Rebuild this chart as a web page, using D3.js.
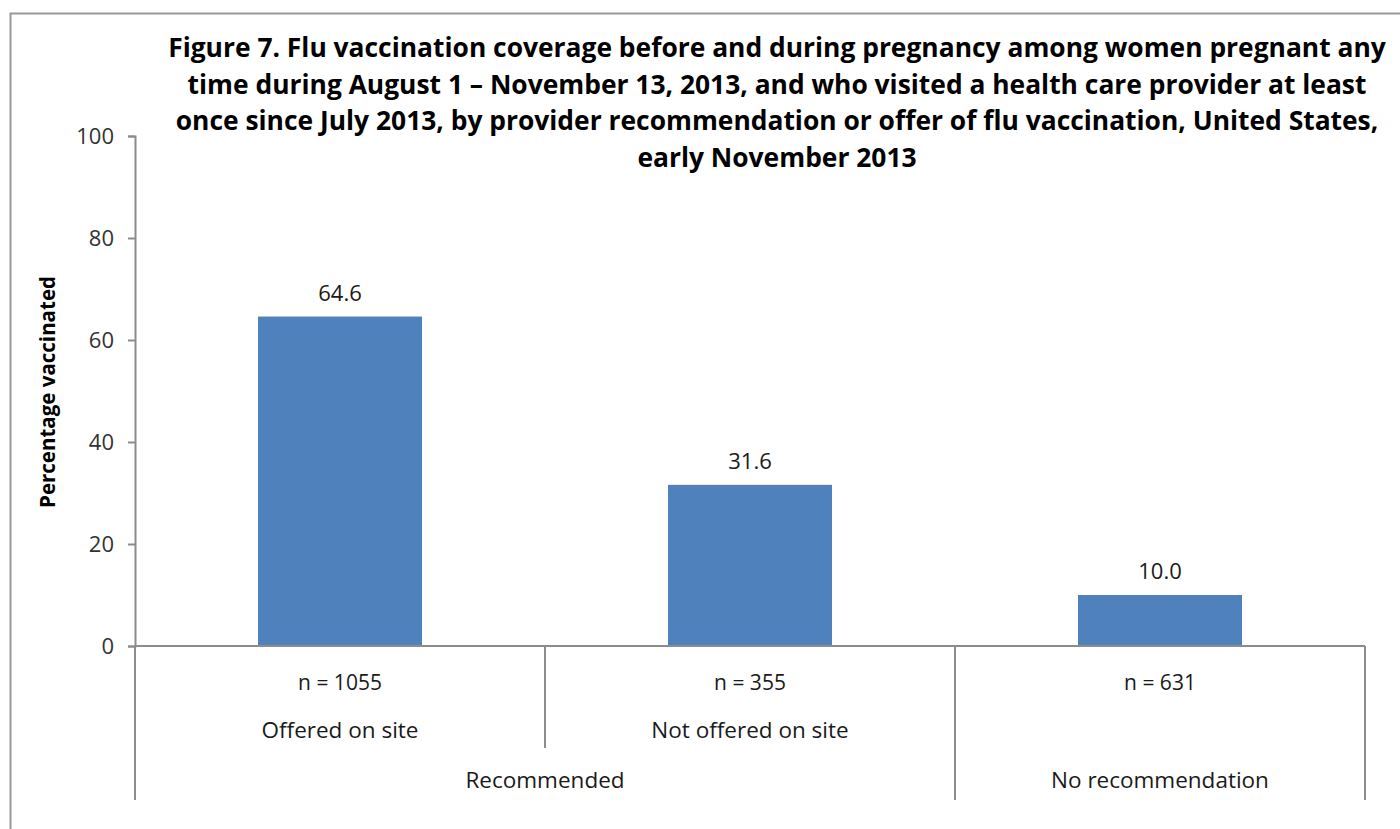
<!DOCTYPE html>
<html>
<head>
<meta charset="utf-8">
<script src="https://cdn.jsdelivr.net/npm/d3@7"></script>
<style>
  html, body { margin: 0; padding: 0; background: #fff; }
  svg { display: block; }
  text { font-family: "Open Sans", Lato, sans-serif; }
</style>
</head>
<body>
<svg id="chart" width="1400" height="829"></svg>
<script>
// Flu vaccination coverage by provider recommendation / offer
const categories = ["Offered on site", "Not offered on site", "No recommendation"];
const sampleSizes = ["n = 1055", "n = 355", "n = 631"];
const groups = [
  { label: "Recommended", span: [0, 1] },
  { label: "No recommendation", span: [2, 2] }
];
const values = [64.6, 31.6, 10.0];
const yTicks = [0, 20, 40, 60, 80, 100];
const titleLines = [
  "Figure 7. Flu vaccination coverage before and during pregnancy among women pregnant any",
  "time during August 1 \u2013 November 13, 2013, and who visited a health care provider at least",
  "once since July 2013, by provider recommendation or offer of flu vaccination, United States,",
  "early November 2013"
];
const yLabel = "Percentage vaccinated";

const svg = d3.select("#chart");
const axisColor = "#8c8c8c";
const textColor = "#1a1a1a";

// outer frame
svg.append("rect")
  .attr("x", 10.5).attr("y", 13.5)
  .attr("width", 1420).attr("height", 900)
  .attr("fill", "none").attr("stroke", "#999").attr("stroke-width", 2);

const plot = { left: 135, right: 1365, top: 136, bottom: 646 };

const x = d3.scaleBand()
  .domain(categories)
  .range([plot.left, plot.right])
  .paddingInner(0.6).paddingOuter(0.3);
const bandStep = x.step();

const y = d3.scaleLinear().domain([0, 100]).range([plot.bottom, plot.top]);

// y axis
const yAxis = d3.axisLeft(y).tickValues(yTicks).tickSize(7).tickPadding(14);
const gy = svg.append("g").attr("transform", `translate(${plot.left},0)`).call(yAxis);
gy.select(".domain").attr("stroke", axisColor).attr("stroke-width", 2);
gy.selectAll(".tick line").attr("stroke", axisColor).attr("stroke-width", 2);
gy.selectAll(".tick text").attr("fill", "#333").style("font-size", "22px")
  .style("font-family", "'Open Sans', sans-serif");

// bars
svg.append("g").selectAll("rect")
  .data(values)
  .join("rect")
  .attr("x", (d, i) => x(categories[i]))
  .attr("width", x.bandwidth())
  .attr("y", d => y(d))
  .attr("height", d => y(0) - y(d))
  .attr("fill", "#4F81BD");

// value labels
svg.append("g").selectAll("text")
  .data(values)
  .join("text")
  .attr("x", (d, i) => x(categories[i]) + x.bandwidth() / 2)
  .attr("y", d => y(d) - 16)
  .attr("text-anchor", "middle")
  .attr("fill", textColor)
  .style("font-size", "22px")
  .text(d => d.toFixed(1));

// x axis baseline
svg.append("line")
  .attr("x1", plot.left).attr("x2", plot.right)
  .attr("y1", plot.bottom).attr("y2", plot.bottom)
  .attr("stroke", axisColor).attr("stroke-width", 2);

// category boundaries: inner dividers (first level) and group dividers (second level)
const boundaryX = i => plot.left + i * bandStep;
const groupEdges = new Set();
groups.forEach(g => { groupEdges.add(g.span[0]); groupEdges.add(g.span[1] + 1); });
for (let i = 0; i <= categories.length; i++) {
  const deep = groupEdges.has(i);
  svg.append("line")
    .attr("x1", boundaryX(i)).attr("x2", boundaryX(i))
    .attr("y1", plot.bottom).attr("y2", deep ? 800 : 748)
    .attr("stroke", axisColor).attr("stroke-width", 2);
}

// category and sample size labels
const catCenter = i => plot.left + (i + 0.5) * bandStep;
svg.append("g").selectAll("text")
  .data(sampleSizes)
  .join("text")
  .attr("x", (d, i) => catCenter(i))
  .attr("y", 690)
  .attr("text-anchor", "middle")
  .attr("fill", textColor)
  .style("font-size", "21px")
  .text(d => d);

// a single-category group carries its name on the group row only
const soloGroup = i => groups.some(g => g.span[0] === i && g.span[1] === i);
svg.append("g").selectAll("text")
  .data(categories)
  .join("text")
  .attr("x", (d, i) => catCenter(i))
  .attr("y", 738)
  .attr("text-anchor", "middle")
  .attr("fill", textColor)
  .style("font-size", "22.5px")
  .text((d, i) => soloGroup(i) ? "" : d);

svg.append("g").selectAll("text")
  .data(groups)
  .join("text")
  .attr("x", g => (boundaryX(g.span[0]) + boundaryX(g.span[1] + 1)) / 2)
  .attr("y", 788)
  .attr("text-anchor", "middle")
  .attr("fill", textColor)
  .style("font-size", "22.5px")
  .text(g => g.label);

// y axis title
svg.append("text")
  .attr("transform", "translate(55,392) rotate(-90)")
  .attr("text-anchor", "middle")
  .attr("fill", "#000")
  .style("font-size", "20.5px")
  .style("font-weight", "bold")
  .text(yLabel);

// chart title
svg.append("g").selectAll("text")
  .data(titleLines)
  .join("text")
  .attr("x", 777)
  .attr("y", (d, i) => 57 + i * 36.7)
  .attr("text-anchor", "middle")
  .attr("fill", "#000")
  .style("font-size", "26.4px")
  .style("font-weight", "bold")
  .text(d => d);
</script>
</body>
</html>
